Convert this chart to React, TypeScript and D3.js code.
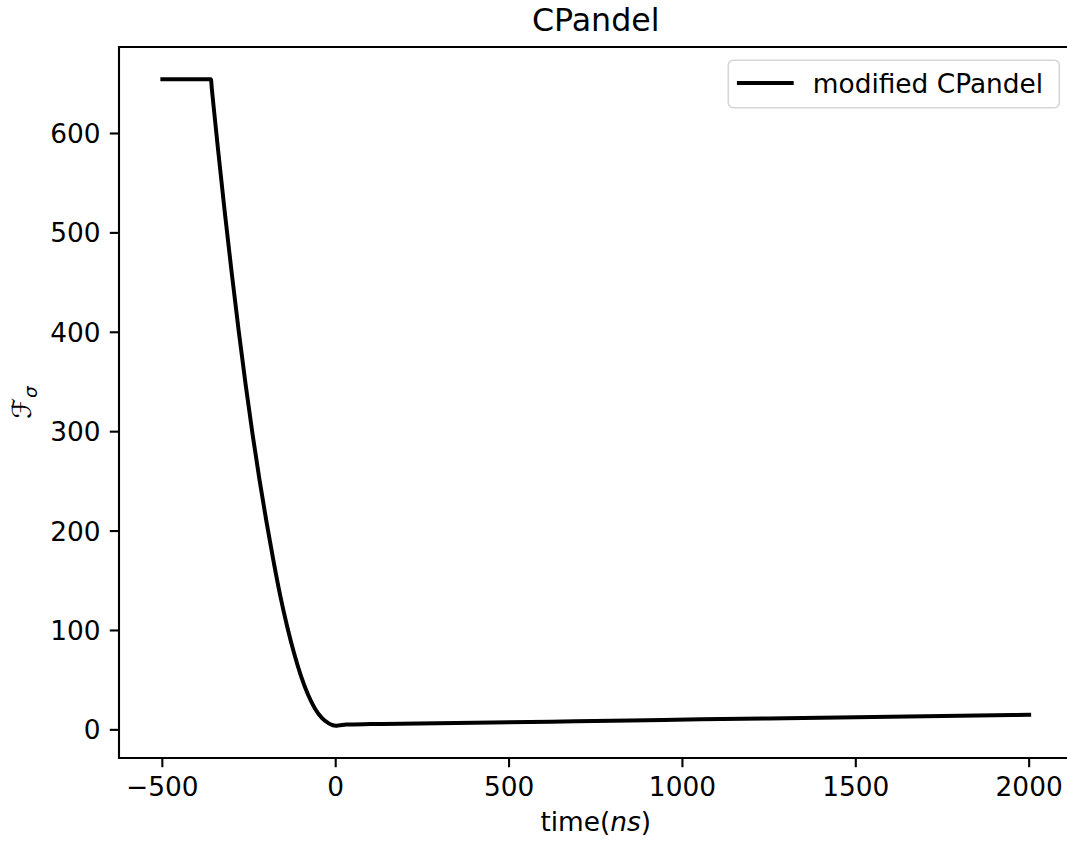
import React from "react";
import * as d3 from "d3";

// ---- data ----
const timeNs = [-500, -420, -360, -357, -350, -340, -320, -300, -280, -260, -240, -220, -200, -180, -160, -140, -120, -100, -80, -60, -40, -20, -8, 0, 10, 30, 100, 187, 400, 620, 850, 1054, 1250, 1500, 1750, 2000];
const fSigma = [654.5, 654.5, 654.5, 644, 620, 586, 521, 460, 402, 348, 298, 252, 210, 171, 135, 104, 77, 54, 35.5, 21.5, 12, 6.5, 4.6, 4.2, 4.5, 5.3, 5.8, 6.2, 7.2, 8.2, 9.4, 10.6, 11.5, 12.7, 13.9, 15.1];
const xTicks = [-500, 0, 500, 1000, 1500, 2000];
const yTicks = [0, 100, 200, 300, 400, 500, 600];
const titleText = "CPandel";
const legendLabel = "modified CPandel";

const W = 1067;
const H = 841;
const FONT = "'DejaVu Sans', sans-serif";
const FS = 26.4;

export default function App() {
  const left = 119, right = 1072.5, top = 47, bottom = 758;
  const xExt = d3.extent(timeNs) as [number, number];
  const yExt = d3.extent(fSigma) as [number, number];
  const xPad = (xExt[1] - xExt[0]) * 0.05;
  const yPad = (yExt[1] - yExt[0]) * 0.05;
  const x = d3.scaleLinear().domain([xExt[0] - xPad, xExt[1] + xPad]).range([left, right]);
  const y = d3.scaleLinear().domain([yExt[0] - yPad, yExt[1] + yPad]).range([bottom, top]);
  const pts = timeNs.map((t, i) => [t, fSigma[i]] as [number, number]);
  const line = d3.line<[number, number]>().x(d => x(d[0])).y(d => y(d[1])).curve(d3.curveMonotoneX);
  const tickLen = 9.2;
  const spine = 2.1;

  // legend geometry
  const lgRight = right - 13.2;
  const lgTop = top + 13.2;
  const lgW = 331;
  const lgH = 47.5;
  const lgLeft = lgRight - lgW;

  return (
    <div style={{ position: "absolute", left: 0, top: 0, width: W, height: H, overflow: "hidden" }}>
      <svg width={W} height={H} viewBox={`0 0 ${W} ${H}`}
        style={{ display: "block", background: "#fff" }}
        fontFamily={FONT}>
        <rect x={0} y={0} width={W} height={H} fill="#fff" />
        <defs>
          <clipPath id="plotclip">
            <rect x={left} y={top} width={right - left} height={bottom - top} />
          </clipPath>
        </defs>
        {/* data line */}
        <path d={line(pts) || ""} fill="none" stroke="#000" strokeWidth={3.96}
          strokeLinejoin="round" strokeLinecap="square" clipPath="url(#plotclip)" />
        {/* spines (right spine lies beyond the picture edge) */}
        <line x1={left} x2={right} y1={top} y2={top} stroke="#000" strokeWidth={spine} strokeLinecap="square" />
        <line x1={left} x2={right} y1={bottom} y2={bottom} stroke="#000" strokeWidth={spine} strokeLinecap="square" />
        <line x1={left} x2={left} y1={top} y2={bottom} stroke="#000" strokeWidth={spine} strokeLinecap="square" />
        {/* x ticks */}
        {xTicks.map(t => (
          <g key={"x" + t}>
            <line x1={x(t)} x2={x(t)} y1={bottom} y2={bottom + tickLen} stroke="#000" strokeWidth={spine} />
            <text x={x(t)} y={bottom + tickLen + 9.2 + FS * 0.76} fontSize={FS} textAnchor="middle" fill="#000">
              {t < 0 ? "\u2212" + Math.abs(t) : String(t)}
            </text>
          </g>
        ))}
        {/* y ticks */}
        {yTicks.map(t => (
          <g key={"y" + t}>
            <line x1={left - tickLen} x2={left} y1={y(t)} y2={y(t)} stroke="#000" strokeWidth={spine} />
            <text x={left - tickLen - 9.2} y={y(t) + FS * 0.36} fontSize={FS} textAnchor="end" fill="#000">{t}</text>
          </g>
        ))}
        {/* title */}
        <text x={(left + right) / 2} y={31} fontSize={31.7} textAnchor="middle" fill="#000">{titleText}</text>
        {/* x label */}
        <text x={(left + right) / 2} y={831} fontSize={FS} textAnchor="middle" fill="#000">
          time(<tspan fontStyle="italic">ns</tspan>)
        </text>
        {/* y label */}
        <text transform={`translate(31, ${(top + bottom) / 2}) rotate(-90)`} fontSize={FS} textAnchor="middle" fill="#000">
          <tspan fontFamily="'DejaVu Serif', 'DejaVu Sans', serif" fontStyle="italic">{"\u2131"}</tspan>
          <tspan fontSize={FS * 0.7} fontStyle="italic" dy={FS * 0.22}>{"\u03c3"}</tspan>
        </text>
        {/* legend */}
        <rect x={lgLeft} y={lgTop} width={lgW} height={lgH} rx={5} ry={5}
          fill="#fff" fillOpacity={0.8} stroke="#d6d6d6" strokeWidth={1.6} />
        <line x1={lgLeft + 10.6} x2={lgLeft + 10.6 + 52.8} y1={lgTop + lgH / 2 - 1} y2={lgTop + lgH / 2 - 1}
          stroke="#000" strokeWidth={3.96} strokeLinecap="square" />
        <text x={lgLeft + 10.6 + 52.8 + 21.1} y={lgTop + lgH / 2 + FS * 0.34} fontSize={FS} fill="#000">{legendLabel}</text>
      </svg>
    </div>
  );
}
